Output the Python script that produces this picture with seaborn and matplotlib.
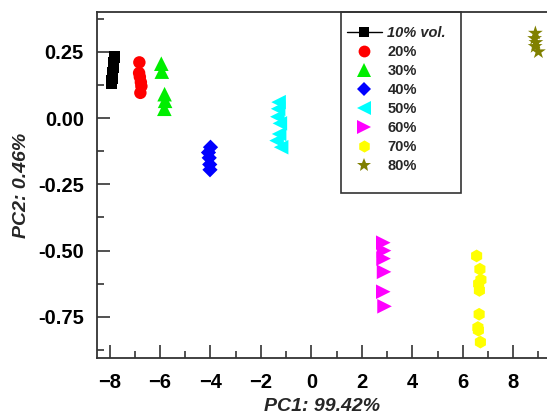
import numpy as np
import pandas as pd
import matplotlib
matplotlib.use("Agg")
import matplotlib.pyplot as plt
from matplotlib.lines import Line2D
from matplotlib.patches import Rectangle
from matplotlib.ticker import MultipleLocator
import seaborn as sns

# PCA scores
x_10 = [-7.82, -7.83, -7.85, -7.88, -7.90, -7.91, -7.92]
y_10 = [0.23, 0.21, 0.19, 0.17, 0.15, 0.14, 0.13]
x_20 = [-6.82, -6.83, -6.80, -6.76, -6.74, -6.78]
y_20 = [0.21, 0.17, 0.155, 0.135, 0.12, 0.095]
x_30 = [-5.95, -5.93, -5.82, -5.80, -5.83]
y_30 = [0.205, 0.175, 0.09, 0.065, 0.035]
x_40 = [-4.00, -4.08, -4.05, -4.03, -4.02]
y_40 = [-0.11, -0.13, -0.15, -0.175, -0.195]
x_50 = [-1.30, -1.32, -1.35, -1.25, -1.28, -1.38, -1.20]
y_50 = [0.06, 0.035, 0.005, -0.02, -0.06, -0.085, -0.11]
x_60 = [2.85, 2.88, 2.86, 2.88, 2.85, 2.90]
y_60 = [-0.47, -0.50, -0.53, -0.58, -0.655, -0.71]
x_70 = [6.55, 6.68, 6.72, 6.63, 6.66, 6.65, 6.60, 6.62, 6.70]
y_70 = [-0.52, -0.57, -0.61, -0.625, -0.65, -0.74, -0.79, -0.80, -0.845]
x_80 = [8.88, 8.85, 8.90, 8.87, 9.00]
y_80 = [0.32, 0.30, 0.285, 0.27, 0.25]

groups = ["10%", "20%", "30%", "40%", "50%", "60%", "70%", "80%"]
legend_labels = ["10% vol.", "20%", "30%", "40%", "50%", "60%", "70%", "80%"]
xs = [x_10, x_20, x_30, x_40, x_50, x_60, x_70, x_80]
ys = [y_10, y_20, y_30, y_40, y_50, y_60, y_70, y_80]

colors = ["#000000", "#ff0000", "#00ee00", "#0000ff", "#00ffff", "#ff00ff", "#ffff00", "#808000"]
markers = ["s", "o", "^", "D", "<", ">", "h", "*"]
sizes = [65, 80, 110, 60, 110, 110, 85, 125]

df = pd.concat(
    [pd.DataFrame({"pc1": x, "pc2": y, "group": g}) for g, x, y in zip(groups, xs, ys)],
    ignore_index=True,
)

sns.set_style("ticks")
plt.rcParams["font.family"] = ["Liberation Sans", "DejaVu Sans"]
plt.rcParams["font.weight"] = "bold"

fig = plt.figure(figsize=(5.47, 4.18), dpi=100)
ax = fig.add_axes([0.1773, 0.1435, 0.8227, 0.8278])

sns.scatterplot(
    data=df,
    x="pc1",
    y="pc2",
    hue="group",
    style="group",
    size="group",
    hue_order=groups,
    palette=dict(zip(groups, colors)),
    markers=dict(zip(groups, markers)),
    sizes=dict(zip(groups, sizes)),
    linewidth=0,
    legend=False,
    ax=ax,
)

ax.set_xlim(-8.5, 9.34)
ax.set_ylim(-0.905, 0.40)
ax.xaxis.set_major_locator(MultipleLocator(2))
ax.xaxis.set_minor_locator(MultipleLocator(1))
ax.yaxis.set_major_locator(MultipleLocator(0.25))
ax.yaxis.set_minor_locator(MultipleLocator(0.125))
ax.yaxis.set_major_formatter(matplotlib.ticker.FormatStrFormatter("%.2f"))

ax.tick_params(which="both", direction="in", width=1.1, colors="#222222",
               labelcolor="black", labelsize=14.5)
ax.tick_params(which="major", length=9.5, pad=10.5)
ax.tick_params(which="minor", length=5)
ax.tick_params(axis="y", which="major", pad=9.5)
for lab in ax.get_xticklabels() + ax.get_yticklabels():
    lab.set_fontweight("bold")

ax.spines["right"].set_visible(False)
for side in ["left", "bottom", "top"]:
    ax.spines[side].set_linewidth(1.3)
    ax.spines[side].set_color("#333333")

ax.set_xlabel("PC1: 99.42%", fontsize=14, fontweight="bold", style="italic", labelpad=4.5)
ax.set_ylabel("PC2: 0.46%", fontsize=14, fontweight="bold", style="italic", labelpad=6)

# legend
handles = []
for i, (c, m, s) in enumerate(zip(colors, markers, sizes)):
    ms = np.sqrt(s) * 0.95
    handles.append(Line2D([0], [0], color="black", linestyle="-" if i == 0 else "none",
                          lw=1, marker=m, markersize=ms, markerfacecolor=c,
                          markeredgewidth=0))
leg = ax.legend(handles, legend_labels, loc="upper left", bbox_to_anchor=(0.545, 0.972),
                frameon=False, fontsize=10.5, handlelength=2.45, handletextpad=0.35,
                labelspacing=0.34, borderpad=0.3, borderaxespad=0)
for t in leg.get_texts():
    t.set_fontweight("bold")
leg.get_texts()[0].set_style("italic")

ax.add_patch(Rectangle((0.542, 0.477), 0.267, 0.523, transform=ax.transAxes,
                       fill=False, edgecolor="#333333", lw=1.2, clip_on=False, zorder=5))

fig.savefig("out.png", dpi=100)
